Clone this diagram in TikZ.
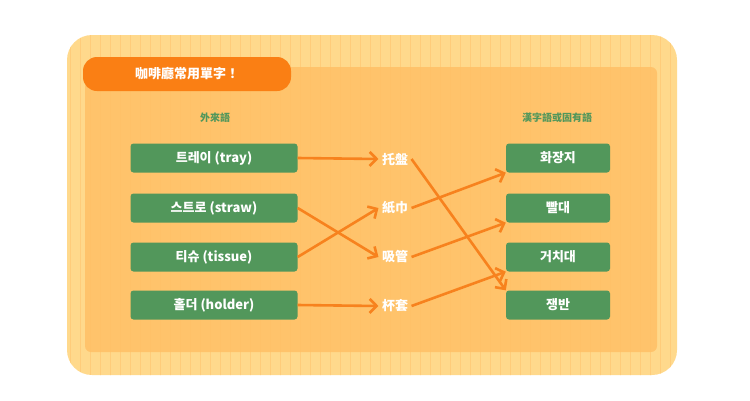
\documentclass[tikz,border=0pt]{standalone}
\usepackage{fontspec}
\setmainfont{Noto Sans CJK KR}
\newfontfamily\tcfont{Noto Sans CJK TC}
\usetikzlibrary{arrows.meta}
\definecolor{cardbg}{HTML}{FFD98C}
\definecolor{gridln}{HTML}{FFCC7A}
\definecolor{panelbg}{HTML}{FFC066}
\definecolor{pill}{HTML}{FA7F14}
\definecolor{leaf}{HTML}{52975B}
\definecolor{arr}{HTML}{F7821E}
\tikzset{
  word/.style={fill=leaf,text=white,rounded corners=3pt,font=\bfseries\fontsize{13}{15}\selectfont,minimum height=29pt,inner sep=0pt},
  hanzi/.style={text=white,font=\tcfont\bfseries\fontsize{13}{15}\selectfont},
  head/.style={text=leaf,font=\tcfont\bfseries\fontsize{10}{12}\selectfont},
  link/.style={arr,line width=2.6pt,-{Straight Barb[length=7pt,width=14pt,line width=2.6pt]}}
}
\begin{document}
\begin{tikzpicture}[x=1pt,y=-1pt]
\useasboundingbox (0,0) rectangle (750,400);
\fill[white] (0,0) rectangle (750,400);
% card with grid
\fill[cardbg,rounded corners=25pt] (67,35) rectangle (677,375);
\begin{scope}
\clip[rounded corners=25pt] (67,35) rectangle (677,375);
\draw[gridln,line width=0.6pt,step=10] (60,30) grid (680,380);
\end{scope}
\fill[panelbg,opacity=0.85,rounded corners=6pt] (85,67) rectangle (657,352);
\node[fill=pill,text=white,rounded corners=14pt,minimum width=208pt,minimum height=34pt,
  font=\tcfont\bfseries\fontsize{13}{15}\selectfont] (title) at (187,74) {咖啡廳常用單字！};
\node[head] (lhead) at (215,118) {外來語};
\node[head] (rhead) at (557,118) {漢字語或固有語};
% loan words
\node[word,minimum width=167pt] (tray) at (214,158) {트레이 (tray)};
\node[word,minimum width=167pt] (straw) at (214,208) {스트로 (straw)};
\node[word,minimum width=167pt] (tissue) at (214,257) {티슈 (tissue)};
\node[word,minimum width=167pt] (holder) at (214,305) {홀더 (holder)};
% hanzi
\node[hanzi] (tp) at (395,159) {托盤};
\node[hanzi] (zj) at (395,208) {紙巾};
\node[hanzi] (xg) at (395,257) {吸管};
\node[hanzi] (bt) at (395,306) {杯套};
% native words
\node[word,minimum width=104pt] (hjj) at (558,158) {화장지};
\node[word,minimum width=104pt] (pd) at (558,208) {빨대};
\node[word,minimum width=104pt] (gcd) at (558,257) {거치대};
\node[word,minimum width=104pt] (jb) at (558,305) {쟁반};
\draw[link] (tray.east) -- (tp.west);
\draw[link] (straw.east) -- (xg.west);
\draw[link] (tissue.east) -- (zj.west);
\draw[link] (holder.east) -- (bt.west);
\draw[link] (tp.east) -- (jb.north west);
\draw[link] (zj.east) -- (hjj.south west);
\draw[link] (xg.east) -- (pd.south west);
\draw[link] (bt.east) -- (gcd.south west);
\end{tikzpicture}
\end{document}
